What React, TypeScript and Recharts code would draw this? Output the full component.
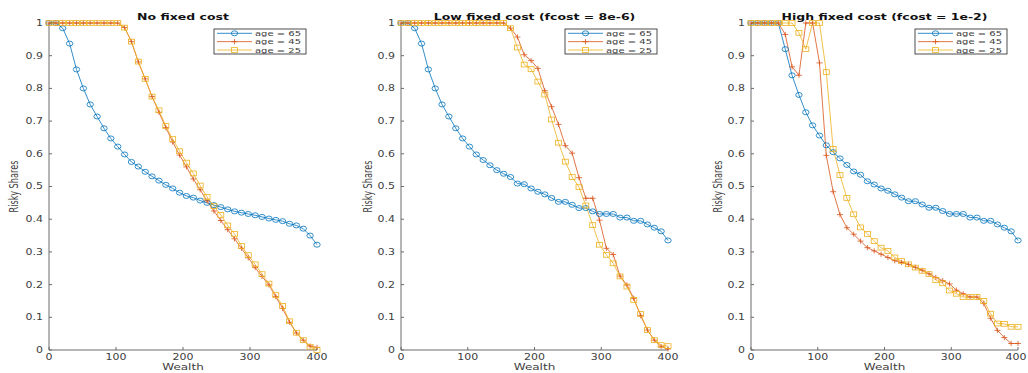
import { LineChart, Line, XAxis, YAxis, Label } from 'recharts';

// wealth grid (40 points, 0..400)
const wealth = [
  0, 10.3, 20.5, 30.8, 41.0, 51.3, 61.5, 71.8, 82.1, 92.3, 102.6, 112.8, 123.1, 133.3, 143.6, 153.8, 164.1, 174.4, 184.6, 194.9,
  205.1, 215.4, 225.6, 235.9, 246.2, 256.4, 266.7, 276.9, 287.2, 297.4, 307.7, 317.9, 328.2, 338.5, 348.7, 359.0, 369.2, 379.5, 389.7, 400,
];

// No fixed cost
const noCost65 = [
  1, 1, 0.984, 0.937, 0.858, 0.8, 0.751, 0.714, 0.678, 0.647, 0.622, 0.598, 0.575, 0.561, 0.545, 0.531, 0.518, 0.505, 0.494, 0.481,
  0.471, 0.466, 0.457, 0.45, 0.443, 0.437, 0.43, 0.424, 0.42, 0.416, 0.412, 0.407, 0.402, 0.398, 0.394, 0.386, 0.381, 0.371, 0.35, 0.322,
];
const noCost45 = [
  1, 1, 1, 1, 1, 1, 1, 1, 1, 1, 1, 0.986, 0.943, 0.881, 0.829, 0.775, 0.727, 0.68, 0.636, 0.596,
  0.56, 0.523, 0.49, 0.456, 0.425, 0.396, 0.368, 0.34, 0.311, 0.282, 0.252, 0.225, 0.199, 0.163, 0.127, 0.085, 0.052, 0.03, 0.012, 0.008,
];
const noCost25 = [
  1, 1, 1, 1, 1, 1, 1, 1, 1, 1, 1, 0.986, 0.943, 0.882, 0.829, 0.775, 0.733, 0.685, 0.645, 0.608,
  0.573, 0.54, 0.503, 0.468, 0.44, 0.413, 0.381, 0.355, 0.318, 0.29, 0.262, 0.232, 0.203, 0.168, 0.135, 0.088, 0.053, 0.03, 0.01, 0,
];

// Low fixed cost
const lowCost65 = [
  1, 1, 0.984, 0.937, 0.858, 0.8, 0.751, 0.714, 0.678, 0.647, 0.622, 0.598, 0.581, 0.565, 0.55, 0.539, 0.529, 0.509, 0.507, 0.494,
  0.484, 0.476, 0.465, 0.453, 0.453, 0.444, 0.434, 0.434, 0.424, 0.416, 0.416, 0.416, 0.405, 0.405, 0.395, 0.395, 0.384, 0.374, 0.363, 0.335,
];
const lowCost45 = [
  1, 1, 1, 1, 1, 1, 1, 1, 1, 1, 1, 1, 1, 1, 1, 1, 0.984, 0.957, 0.903, 0.885,
  0.861, 0.793, 0.744, 0.69, 0.625, 0.602, 0.527, 0.464, 0.464, 0.397, 0.311, 0.292, 0.226, 0.199, 0.158, 0.105, 0.061, 0.03, 0.01, 0.003,
];
const lowCost25 = [
  1, 1, 1, 1, 1, 1, 1, 1, 1, 1, 1, 1, 1, 1, 1, 1, 0.984, 0.925, 0.873, 0.859,
  0.821, 0.781, 0.705, 0.634, 0.576, 0.529, 0.498, 0.442, 0.382, 0.322, 0.291, 0.265, 0.225, 0.194, 0.153, 0.11, 0.061, 0.03, 0.015, 0.012,
];

// High fixed cost
const highCost65 = [
  1, 1, 1, 1, 1, 0.92, 0.84, 0.78, 0.727, 0.687, 0.656, 0.626, 0.605, 0.586, 0.566, 0.546, 0.536, 0.516, 0.506, 0.494,
  0.487, 0.476, 0.466, 0.455, 0.455, 0.445, 0.435, 0.435, 0.425, 0.416, 0.416, 0.416, 0.405, 0.405, 0.395, 0.395, 0.384, 0.374, 0.363, 0.335,
];
const highCost45 = [
  1, 1, 1, 1, 1, 0.965, 0.866, 0.84, 1, 1, 0.878, 0.595, 0.484, 0.414, 0.374, 0.354, 0.333, 0.313, 0.303, 0.293,
  0.283, 0.273, 0.268, 0.262, 0.253, 0.244, 0.233, 0.222, 0.212, 0.202, 0.183, 0.172, 0.162, 0.162, 0.142, 0.097, 0.06, 0.038, 0.02, 0.02,
];
const highCost25 = [
  1, 1, 1, 1, 1, 1, 1, 0.97, 0.92, 1, 1, 0.85, 0.615, 0.535, 0.465, 0.415, 0.375, 0.355, 0.333, 0.313,
  0.303, 0.283, 0.272, 0.262, 0.252, 0.242, 0.232, 0.214, 0.204, 0.182, 0.172, 0.162, 0.162, 0.162, 0.15, 0.111, 0.081, 0.08, 0.071, 0.071,
];

const xTicks = [0, 100, 200, 300, 400];
const yTicks = [0, 0.1, 0.2, 0.3, 0.4, 0.5, 0.6, 0.7, 0.8, 0.9, 1];
const ageLabels = ['age = 65', 'age = 45', 'age = 25'];
const titles = ['No fixed cost', 'Low fixed cost (fcost = 8e-6)', 'High fixed cost (fcost = 1e-2)'];

const COLORS = ['#0072BD', '#D95319', '#EDB120'];
const KINDS = ['circle', 'plus', 'square'];
const FONT = '"DejaVu Sans", sans-serif';
const SQ = 0.72; // vertical squash of the source image text
const TEXT = '#404040';
const AXIS = '#6b6b6b';

function Marker({ kind, cx, cy, color }: { kind: string; cx: number; cy: number; color: string }) {
  if (kind === 'circle') return <ellipse cx={cx} cy={cy} rx={3.2} ry={2.5} fill="none" stroke={color} strokeWidth={0.8} />;
  if (kind === 'plus')
    return <path d={`M${cx - 3},${cy}H${cx + 3}M${cx},${cy - 2.6}V${cy + 2.6}`} stroke={color} strokeWidth={0.8} fill="none" />;
  return <rect x={cx - 3} y={cy - 2.4} width={6} height={4.8} fill="none" stroke={color} strokeWidth={0.8} />;
}

function XTick({ x, y, payload }: any) {
  return (
    <text transform={`translate(${x},${y + 9.5}) scale(1,${SQ})`} textAnchor="middle" fontSize={11} fontFamily={FONT} fill={TEXT}>
      {payload.value}
    </text>
  );
}

function YTick({ x, y, payload }: any) {
  return (
    <text transform={`translate(${x},${y + 2.9}) scale(1,${SQ})`} textAnchor="end" fontSize={11} fontFamily={FONT} fill={TEXT}>
      {String(payload.value)}
    </text>
  );
}

interface PanelProps {
  title: string;
  s65: number[];
  s45: number[];
  s25: number[];
  left: number;
  width: number;
  yAxisWidth: number;
  right: number;
  labelOffset: number;
}

function Panel({ title, s65, s45, s25, left, width, yAxisWidth, right, labelOffset }: PanelProps) {
  const data = wealth.map((w, i) => ({ wealth: w, a65: s65[i], a45: s45[i], a25: s25[i] }));
  const plotLeft = yAxisWidth;
  const plotRight = width - right;
  const legendX = plotRight - 103;
  const keys = ['a65', 'a45', 'a25'];

  return (
    <div style={{ position: 'absolute', left, top: 0, width, height: 373 }}>
      <LineChart width={width} height={373} data={data} margin={{ top: 23, right, bottom: 0, left: 0 }}>
        <XAxis
          dataKey="wealth"
          type="number"
          domain={[0, 400]}
          ticks={xTicks}
          height={23}
          tickSize={-3}
          tickMargin={3}
          tick={<XTick />}
          stroke={AXIS}
          tickLine={{ stroke: AXIS }}
        >
          <Label
            content={({ viewBox }: any) => (
              <text
                transform={`translate(${viewBox.x + viewBox.width / 2},${viewBox.y + 20}) scale(1,${SQ})`}
                textAnchor="middle"
                fontSize={12}
                fontFamily={FONT}
                fill={TEXT}
              >
                Wealth
              </text>
            )}
          />
        </XAxis>
        <YAxis
          type="number"
          domain={[0, 1]}
          ticks={yTicks}
          width={yAxisWidth}
          tickSize={-3}
          tickMargin={9}
          tick={<YTick />}
          stroke={AXIS}
          tickLine={{ stroke: AXIS }}
        >
          <Label
            content={({ viewBox }: any) => (
              <text
                transform={`translate(${viewBox.x + labelOffset},${viewBox.y + viewBox.height / 2}) rotate(-90) scale(0.68,1)`}
                textAnchor="middle"
                dominantBaseline="central"
                fontSize={12}
                fontFamily={FONT}
                fill={TEXT}
              >
                Risky Shares
              </text>
            )}
          />
        </YAxis>
        {keys.map((k, i) => (
          <Line
            key={k}
            type="linear"
            dataKey={k}
            stroke={COLORS[i]}
            strokeWidth={0.8}
            isAnimationActive={false}
            dot={(p: any) => <Marker key={`${k}-${p.index}`} kind={KINDS[i]} cx={p.cx} cy={p.cy} color={COLORS[i]} />}
            activeDot={false}
          />
        ))}
      </LineChart>
      <svg width={width} height={373} style={{ position: 'absolute', left: 0, top: 0, pointerEvents: 'none' }}>
        <text
          transform={`translate(${(plotLeft + plotRight) / 2},20) scale(1,${SQ})`}
          textAnchor="middle"
          fontSize={12.5}
          fontWeight="bold"
          fontFamily={FONT}
          fill="#111"
        >
          {title}
        </text>
        <rect x={legendX} y={29} width={92} height={25} fill="#fff" stroke="#222" strokeWidth={0.8} />
        {ageLabels.map((lab, i) => {
          const cy = 33.3 + i * 8.35;
          return (
            <g key={lab}>
              <line x1={legendX + 3} x2={legendX + 38} y1={cy} y2={cy} stroke={COLORS[i]} strokeWidth={0.8} />
              <Marker kind={KINDS[i]} cx={legendX + 20.5} cy={cy} color={COLORS[i]} />
              <text
                transform={`translate(${legendX + 41},${cy + 2.7}) scale(1,${SQ})`}
                fontSize={10}
                fontFamily={FONT}
                fill={TEXT}
              >
                {lab}
              </text>
            </g>
          );
        })}
      </svg>
    </div>
  );
}

export default function App() {
  return (
    <div style={{ position: 'absolute', left: 0, top: 0, width: 1028, height: 373, background: '#fff', overflow: 'hidden' }}>
      <Panel title={titles[0]} s65={noCost65} s45={noCost45} s25={noCost25} left={0} width={340} yAxisWidth={49} right={23} labelOffset={13} />
      <Panel title={titles[1]} s65={lowCost65} s45={lowCost45} s25={lowCost25} left={350} width={340} yAxisWidth={51} right={22} labelOffset={17} />
      <Panel title={titles[2]} s65={highCost65} s45={highCost45} s25={highCost25} left={700} width={328} yAxisWidth={51} right={10} labelOffset={17} />
    </div>
  );
}
